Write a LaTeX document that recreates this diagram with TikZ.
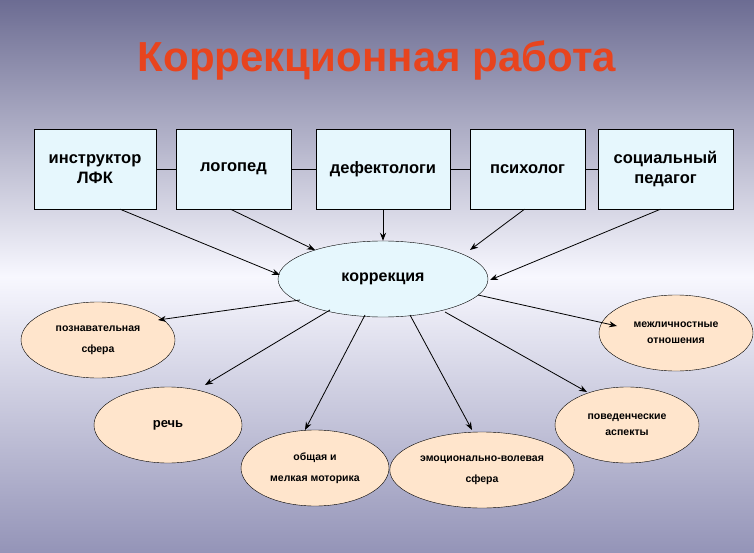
\documentclass[tikz,border=0pt]{standalone}
\usepackage{fontspec}
\setmainfont{Liberation Sans}
\usetikzlibrary{arrows.meta,shapes.geometric}
\definecolor{ttl}{HTML}{E8441E}
\begin{document}
\begin{tikzpicture}[x=1pt,y=-1pt,
 box/.style={draw=black,fill=cyan!10!white,minimum width=#1,minimum height=80pt,align=center,font=\bfseries\fontsize{16.5}{20}\selectfont},
 oval/.style={draw=black,ellipse,fill=orange!20!white,align=center,font=\bfseries\fontsize{10.5}{21}\selectfont},
 arr/.style={-{Stealth[length=8pt,width=6pt]},thick}]
\shade[top color=gray!85!blue,bottom color=gray!80!blue!70,middle color=gray!10!blue!3] (0,0) rectangle (754,553);
\useasboundingbox (0,0) rectangle (754,553);
\node[text=ttl,font=\bfseries\fontsize{42}{48}\selectfont] (t) at (377,60) {Коррекционная работа};
\node[box=122pt] (b1) at (95,169) {инструктор\\ЛФК};
\node[box=115pt] (b2) at (233.5,169) {логопед};
\node[box=134pt] (b3) at (383,169) {дефектологи};
\node[box=115pt] (b4) at (527.5,169) {психолог};
\node[box=135pt] (b5) at (665.5,169) {социальный\\педагог};
\draw (b1) -- (b2) (b2) -- (b3) (b3) -- (b4) (b4) -- (b5);
\node[draw=black,ellipse,fill=cyan!10!white,minimum width=210pt,minimum height=76pt,font=\bfseries\fontsize{16}{19}\selectfont] (k) at (383,279) {коррекция};
\node[oval,minimum width=154pt,minimum height=76pt] (e1) at (98,340) {познавательная\\сфера};
\node[oval,minimum width=148pt,minimum height=76pt,font=\bfseries\fontsize{13}{15}\selectfont] (e2) at (168,425) {речь};
\node[oval,minimum width=148pt,minimum height=76pt] (e3) at (315,468) {общая и\\мелкая моторика};
\node[oval,minimum width=160pt,minimum height=76pt] (e4) at (482,470) {эмоционально-волевая\\сфера};
\node[oval,minimum width=144pt,minimum height=76pt,font=\bfseries\fontsize{10.5}{16}\selectfont] (e5) at (627,425) {поведенческие\\аспекты};
\node[oval,minimum width=154pt,minimum height=76pt,font=\bfseries\fontsize{10.5}{16}\selectfont] (e6) at (676,333) {межличностные\\отношения};
\draw[arr] ([xshift=25pt]b1.south) -- (280,275);
\draw[arr] ([xshift=-3pt]b2.south) -- (315,250);
\draw[arr] (b3.south) -- (k.north);
\draw[arr] ([xshift=-3pt]b4.south) -- (470,250);
\draw[arr] ([xshift=-5pt]b5.south) -- (490,280);
\draw[arr] (300,300) -- (158,320);
\draw[arr] (330,310) -- (205,385);
\draw[arr] (365,315) -- (305,430);
\draw[arr] (410,315) -- (472,430);
\draw[arr] (445,312) -- (587,392);
\draw[arr] (478,295) -- (617,326);
\end{tikzpicture}
\end{document}
